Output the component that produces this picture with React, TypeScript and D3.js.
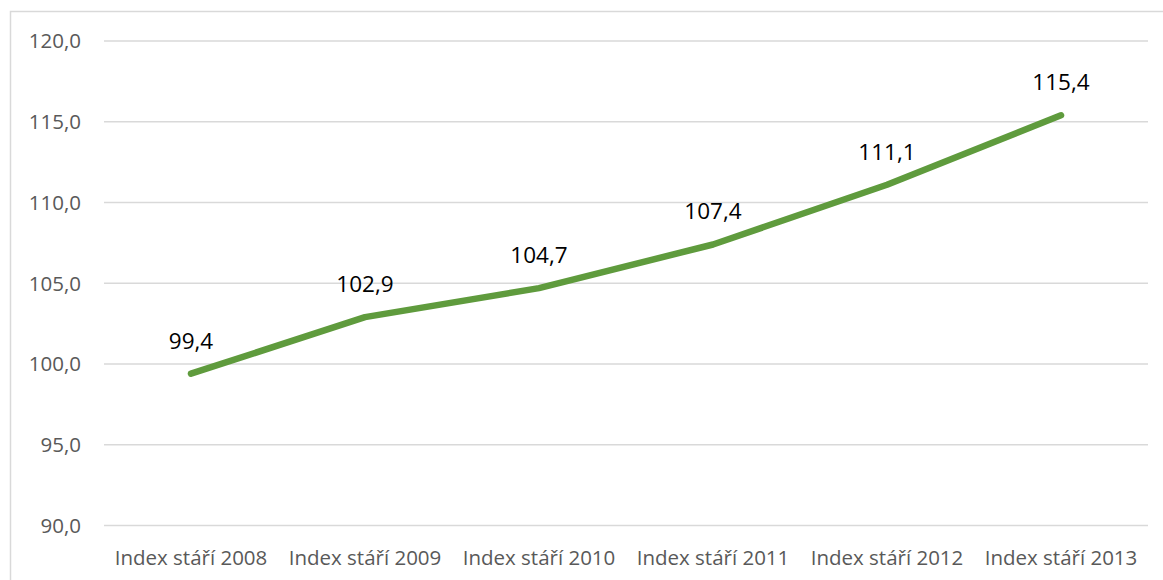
import React from "react";
import * as d3 from "d3";

const categories = [
  "Index stáří 2008",
  "Index stáří 2009",
  "Index stáří 2010",
  "Index stáří 2011",
  "Index stáří 2012",
  "Index stáří 2013",
];
const values = [99.4, 102.9, 104.7, 107.4, 111.1, 115.4];
const yTicks = [90, 95, 100, 105, 110, 115, 120];

const W = 1163;
const H = 580;
const left = 104;
const right = 1148;
const top = 41;
const bottom = 525.5;

const fmt = (v: number) => v.toFixed(1).replace(".", ",");

export default function App() {
  const x = d3.scaleBand<string>().domain(categories).range([left, right]);
  const y = d3.scaleLinear().domain([90, 120]).range([bottom, top]);
  const line = d3
    .line<number>()
    .x((_, i) => (x(categories[i]) as number) + x.bandwidth() / 2)
    .y((d) => y(d));
  const font = "'Open Sans', sans-serif";
  return (
    <svg
      width={W}
      height={H}
      style={{ position: "absolute", left: 0, top: 0, background: "#fff" }}
    >
      <rect x={10.5} y={11.5} width={W} height={H} fill="#fff" stroke="#d9d9d9" strokeWidth={1.5} />
      {yTicks.map((t) => (
        <g key={t}>
          <line x1={left} x2={right} y1={y(t)} y2={y(t)} stroke="#d9d9d9" strokeWidth={1.3} />
          <text
            x={81}
            y={y(t)}
            dy="0.36em"
            textAnchor="end"
            fontFamily={font}
            fontSize={20.5}
            fill="#595959"
          >
            {fmt(t)}
          </text>
        </g>
      ))}
      {categories.map((c) => (
        <text
          key={c}
          x={(x(c) as number) + x.bandwidth() / 2}
          y={565}
          textAnchor="middle"
          fontFamily={font}
          fontSize={20.5}
          fill="#595959"
        >
          {c}
        </text>
      ))}
      <path
        d={line(values) || ""}
        fill="none"
        stroke="#5f9b3d"
        strokeWidth={6.5}
        strokeLinecap="round"
        strokeLinejoin="round"
      />
      {values.map((v, i) => (
        <text
          key={i}
          x={(x(categories[i]) as number) + x.bandwidth() / 2}
          y={y(v) - 25}
          textAnchor="middle"
          fontFamily={font}
          fontSize={22.5}
          fill="#000"
        >
          {fmt(v)}
        </text>
      ))}
    </svg>
  );
}
